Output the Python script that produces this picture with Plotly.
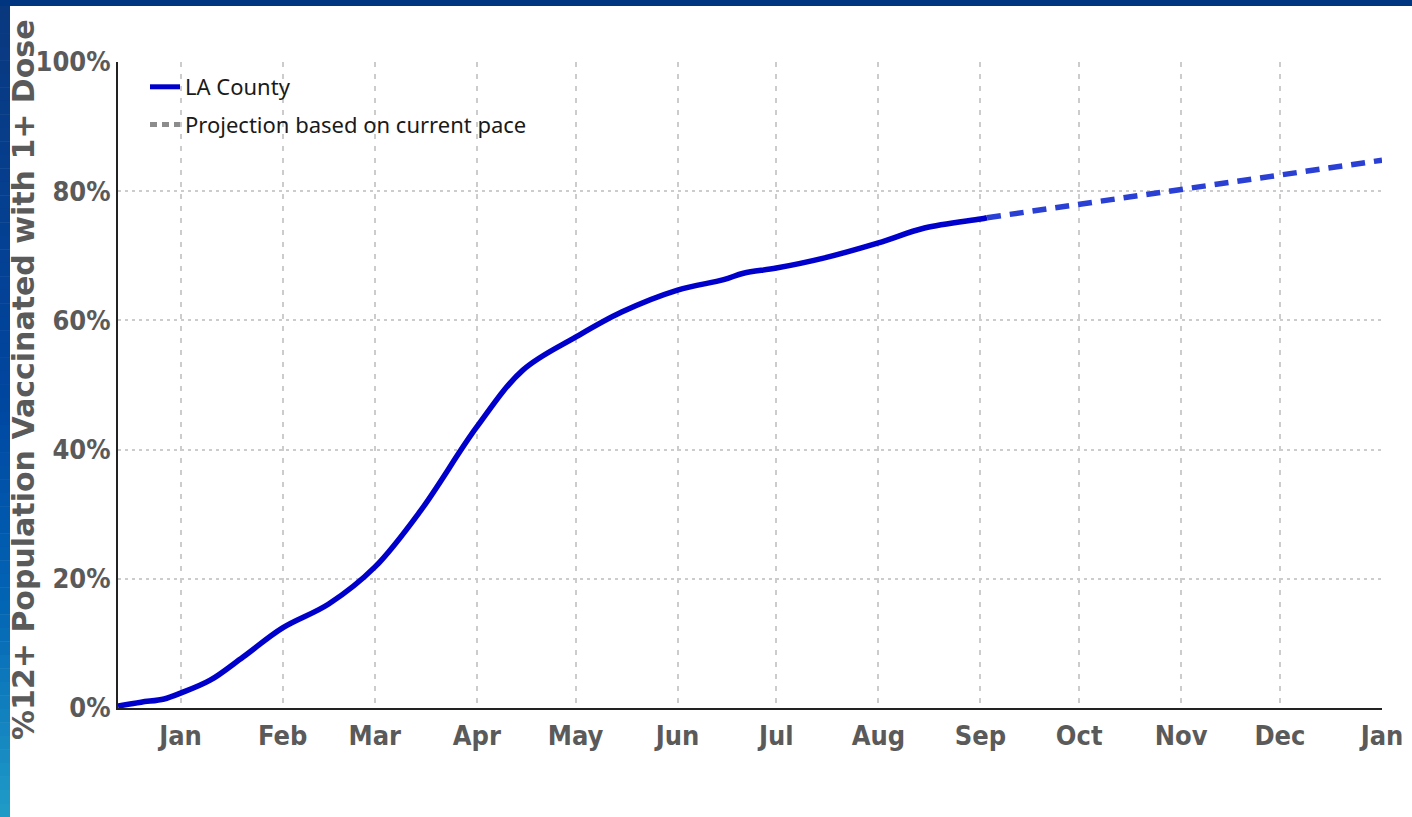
import plotly.graph_objects as go

# ---- data ----
dates = ["2020-12-13", "2020-12-20", "2020-12-27", "2021-01-01", "2021-01-10",
         "2021-01-20", "2021-02-01", "2021-02-15", "2021-03-01", "2021-03-15",
         "2021-04-01", "2021-04-15", "2021-05-01", "2021-05-15", "2021-06-01",
         "2021-06-15", "2021-06-21", "2021-07-01", "2021-07-15", "2021-08-01",
         "2021-08-15", "2021-09-01", "2021-09-03"]
pct_la = [0.3, 0.9, 1.4, 2.3, 4.3, 7.9, 12.4, 16.1, 21.8, 30.6,
          43.5, 52.3, 57.4, 61.3, 64.7, 66.3, 67.3, 68.1, 69.6, 72.0,
          74.3, 75.7, 75.9]
proj_dates = ["2021-09-03", "2021-10-01", "2021-11-01", "2021-12-01", "2022-01-01"]
proj_pct = [75.9, 78.0, 80.3, 82.5, 84.8]

tick_dates = ["2021-01-01", "2021-02-01", "2021-03-01", "2021-04-01", "2021-05-01",
              "2021-06-01", "2021-07-01", "2021-08-01", "2021-09-01", "2021-10-01",
              "2021-11-01", "2021-12-01", "2022-01-01"]
tick_labels = ["Jan", "Feb", "Mar", "Apr", "May", "Jun", "Jul", "Aug", "Sep",
               "Oct", "Nov", "Dec", "Jan"]
y_ticks = [0, 20, 40, 60, 80, 100]
y_labels = ["0%", "20%", "40%", "60%", "80%", "100%"]

# ---- layout geometry (pixels) ----
W, H = 1412, 817
L, R, T, B = 118, 1382, 62, 708
pw, ph = R - L, B - T

def px(x):
    return (x - L) / pw

def py(y):
    return (B - y) / ph

fig = go.Figure()

fig.add_trace(go.Scatter(x=dates, y=pct_la, mode="lines", line_shape="spline",
                         line=dict(color="#0000cc", width=5.5), showlegend=False,
                         hoverinfo="skip"))
fig.add_trace(go.Scatter(x=proj_dates, y=proj_pct, mode="lines",
                         line=dict(color="#2a3fd4", width=5.5, dash="14px,9px"),
                         showlegend=False, hoverinfo="skip"))
# legend entries
fig.add_trace(go.Scatter(x=[None], y=[None], mode="lines", name="LA County",
                         legendgroup="a", line=dict(color="#0000cc", width=5)))
fig.add_trace(go.Scatter(x=[None], y=[None], mode="lines",
                         name="Projection based on current pace", legendgroup="b",
                         line=dict(color="#8c8c8c", width=5, dash="7px,5px")))

shapes = []
# top bar
shapes.append(dict(type="rect", xref="paper", yref="paper", x0=px(-2), x1=px(W + 2),
                   y0=py(6), y1=py(-2), fillcolor="#003580", line_width=0, layer="above"))
# left gradient strip
stops = [(0, (10, 56, 126)), (400, (0, 70, 160)), (600, (2, 100, 180)), (817, (32, 156, 200))]
n = 60
for i in range(n):
    y0 = 6 + (H - 6) * i / n
    y1 = 6 + (H - 6) * (i + 1) / n
    ym = (y0 + y1) / 2
    for j in range(len(stops) - 1):
        if stops[j][0] <= ym <= stops[j + 1][0]:
            f = (ym - stops[j][0]) / (stops[j + 1][0] - stops[j][0])
            c = [round(stops[j][1][k] + f * (stops[j + 1][1][k] - stops[j][1][k])) for k in range(3)]
            break
    shapes.append(dict(type="rect", xref="paper", yref="paper", x0=px(-2), x1=px(10),
                       y0=py(y1 + 0.5), y1=py(y0), fillcolor="rgb(%d,%d,%d)" % tuple(c),
                       line_width=0, layer="above"))

tickfont = dict(family="Liberation Sans Narrow, DejaVu Sans Condensed, Liberation Sans", size=27,
                color="#5a5a5a", weight="bold")

fig.update_layout(
    width=W, height=H,
    margin=dict(l=L, r=W - R, t=T, b=H - B, autoexpand=False),
    paper_bgcolor="white", plot_bgcolor="white",
    shapes=shapes,
    showlegend=True,
    legend=dict(x=px(145), y=py(66), xanchor="left", yanchor="top",
                bgcolor="rgba(0,0,0,0)", font=dict(family="Noto Sans", size=22, color="#1a1a1a"),
                tracegroupgap=6, itemwidth=30),
    xaxis=dict(range=["2020-12-13", "2022-01-01"], tickvals=tick_dates, ticktext=tick_labels,
               showgrid=True, gridcolor="#cccccc", gridwidth=2, griddash="5px,7px",
               showline=True, linecolor="#222222", linewidth=2, ticks="",
               ticklabelstandoff=3,
               tickfont=tickfont, zeroline=False, fixedrange=True),
    yaxis=dict(range=[0, 100], tickvals=y_ticks, ticktext=y_labels,
               showgrid=True, gridcolor="#cccccc", gridwidth=2, griddash="3px,4px",
               showline=True, linecolor="#222222", linewidth=2, ticks="",
               tickfont=tickfont, zeroline=False, fixedrange=True),
    annotations=[dict(text="%12+ Population Vaccinated with 1+ Dose", textangle=-90,
                      xref="paper", yref="paper", x=px(23), y=py(380),
                      xanchor="center", yanchor="middle", showarrow=False,
                      font=dict(family="DejaVu Sans", size=30, color="#5a5a5a", weight="bold"))],
)

fig.write_html("out.html", config={"displayModeBar": False},
               post_script="document.body.style.margin='0';document.body.style.overflow='hidden';")
